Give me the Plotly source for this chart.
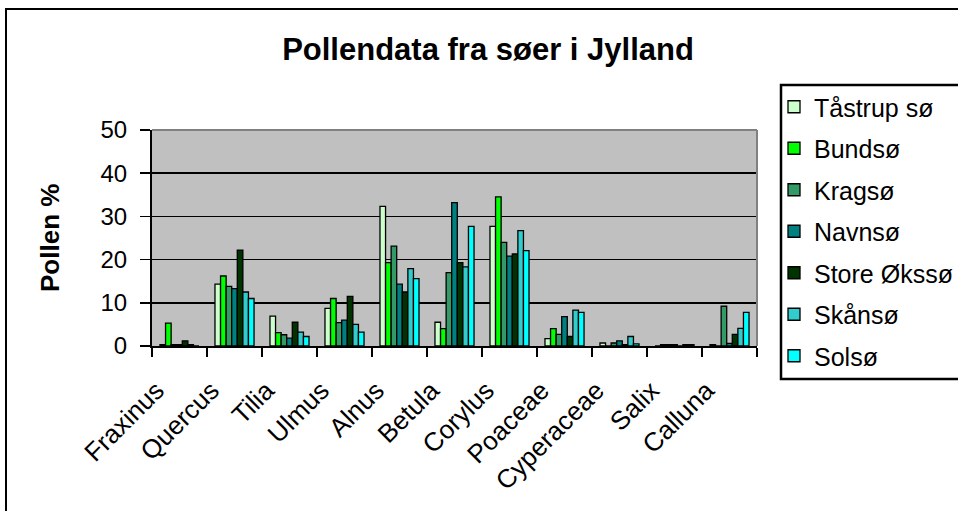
import plotly.graph_objects as go

categories = ["Fraxinus", "Quercus", "Tilia", "Ulmus", "Alnus", "Betula",
              "Corylus", "Poaceae", "Cyperaceae", "Salix", "Calluna"]

taastrup = [0.3, 14.3, 6.9, 8.7, 32.3, 5.5, 27.7, 1.7, 0.7, 0.0, 0.3]
bundsoe = [5.3, 16.2, 3.1, 11.0, 19.3, 4.0, 34.5, 4.0, 0.0, 0.3, 0.0]
kragsoe = [0.3, 13.8, 2.6, 5.4, 23.1, 17.0, 24.0, 2.7, 0.7, 0.3, 9.2]
navnsoe = [0.3, 13.3, 1.8, 6.0, 14.3, 33.2, 20.8, 6.8, 1.2, 0.3, 0.6]
store_oekssoe = [1.2, 22.2, 5.5, 11.5, 12.5, 19.3, 21.3, 2.2, 0.3, 0.0, 2.7]
skaansoe = [0.3, 12.5, 3.2, 5.0, 17.9, 18.3, 26.7, 8.3, 2.2, 0.3, 4.1]
solsoe = [0.0, 11.0, 2.2, 3.2, 15.6, 27.7, 22.1, 7.8, 0.5, 0.3, 7.8]

series_names = ["Tåstrup sø", "Bundsø", "Kragsø", "Navnsø", "Store Økssø", "Skånsø", "Solsø"]
series_values = [taastrup, bundsoe, kragsoe, navnsoe, store_oekssoe, skaansoe, solsoe]
series_colors = ["#CCFFCC", "#00FF00", "#339966", "#008080", "#003300", "#33CCCC", "#00FFFF"]

FONT = "Arial, Liberation Sans, sans-serif"
W, H = 958, 511
L, R, T, B = 152, 201, 130, 165
pw, ph = W - L - R, H - T - B

def px_x(p):
    return (p - L) / pw

def px_y(p):
    return (H - B - p) / ph

fig = go.Figure()
for i, (name, vals, col) in enumerate(zip(series_names, series_values, series_colors)):
    fig.add_trace(go.Bar(
        x=categories, y=vals, name=name,
        marker=dict(color=col, line=dict(color="black", width=1.3)),
        legendgroup=str(i),
    ))

fig.update_layout(
    width=W, height=H,
    margin=dict(l=L, r=R, t=T, b=B, autoexpand=False),
    paper_bgcolor="white",
    plot_bgcolor="#C0C0C0",
    barmode="group",
    bargap=0.29,
    bargroupgap=0,
    font=dict(family=FONT, color="black"),
    title=dict(text="<b>Pollendata fra søer i Jylland</b>",
               x=488 / W, xref="container", xanchor="center",
               y=1 - 49 / H, yref="container", yanchor="middle",
               font=dict(size=31, family=FONT, color="black")),
    showlegend=True,
    legend=dict(
        x=px_x(774), y=px_y(84), xanchor="left", yanchor="top",
        xref="paper", yref="paper",
        bgcolor="rgba(0,0,0,0)", borderwidth=0,
        font=dict(size=25, family=FONT, color="black"),
        traceorder="grouped", tracegroupgap=6,
        itemwidth=30, maxheight=420,
    ),
    xaxis=dict(
        type="category",
        showgrid=False,
        showline=True, linecolor="black", linewidth=2,
        ticks="outside", tickson="boundaries", ticklen=9, tickcolor="black", tickwidth=1.5,
        tickangle=-45,
        ticklabelshift=-23, ticklabelstandoff=17,
        tickfont=dict(size=26, family=FONT, color="black"),
    ),
    yaxis=dict(
        range=[0, 50], dtick=10,
        showgrid=True, gridcolor="black", gridwidth=1.5,
        showline=True, linecolor="black", linewidth=2,
        ticks="outside", ticklen=10, tickcolor="black", tickwidth=1.5,
        ticklabelstandoff=8,
        tickfont=dict(size=24, family=FONT, color="black"),
        zeroline=False,
    ),
    annotations=[dict(
        text="<b>Pollen %</b>", textangle=-90,
        x=px_x(50), y=0.5, xref="paper", yref="paper",
        xanchor="center", yanchor="middle", showarrow=False,
        font=dict(size=26, family=FONT, color="black"),
    )],
    shapes=[
        # outer chart border
        dict(type="rect", xref="paper", yref="paper",
             x0=px_x(6), x1=px_x(1000), y0=px_y(560), y1=px_y(9),
             line=dict(color="black", width=2), fillcolor="rgba(0,0,0,0)", layer="below"),
        # legend box
        dict(type="rect", xref="paper", yref="paper",
             x0=px_x(781), x1=px_x(1000), y0=px_y(379), y1=px_y(85),
             line=dict(color="black", width=2.5), fillcolor="white", layer="below"),
        # plot area top/right border (gray)
        dict(type="line", xref="paper", yref="paper", x0=0, x1=1, y0=1, y1=1,
             line=dict(color="#808080", width=2)),
        dict(type="line", xref="paper", yref="paper", x0=1, x1=1, y0=0, y1=1,
             line=dict(color="#808080", width=2)),
    ],
)

fig.write_html("out.html",
               config={"displayModeBar": False, "staticPlot": True},
               post_script="document.body.style.margin='0';")
